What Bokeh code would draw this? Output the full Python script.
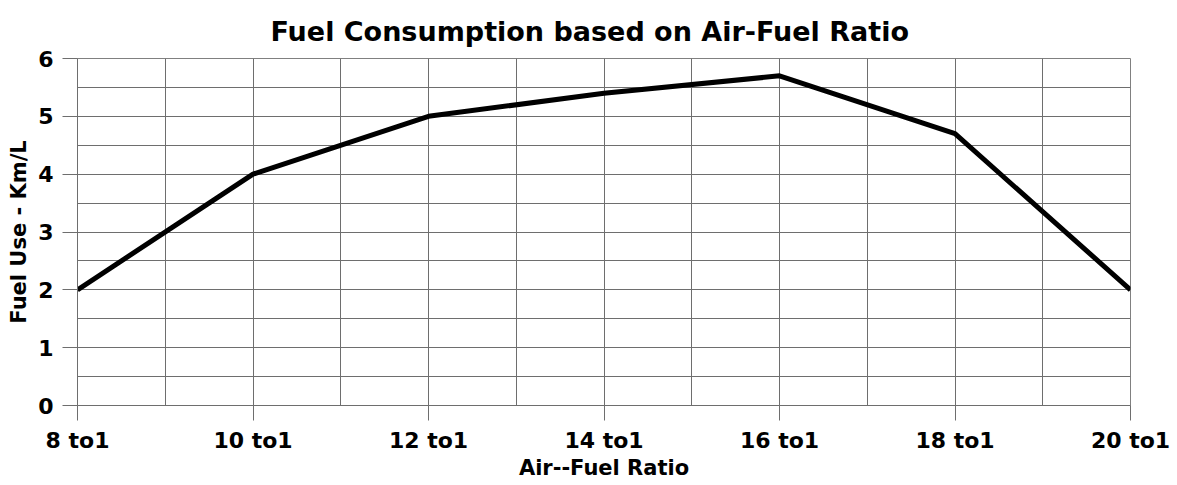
from bokeh.plotting import figure
from bokeh.models import FixedTicker, Range1d
from bokeh.embed import file_html
from bokeh.resources import INLINE

ratios = [8, 10, 12, 14, 16, 18, 20]
fuel_use = [2.0, 4.0, 5.0, 5.4, 5.7, 4.7, 2.0]
x_labels = {8: "8 to1", 10: "10 to1", 12: "12 to1", 14: "14 to1",
            16: "16 to1", 18: "18 to1", 20: "20 to1"}
y_ticks = [0, 1, 2, 3, 4, 5, 6]

FONT = "DejaVu Sans"

p = figure(width=1177, height=485, output_backend="svg", toolbar_location=None,
           x_range=Range1d(8, 20), y_range=Range1d(0, 6),
           min_border_left=77, min_border_right=47, min_border_top=58,
           min_border_bottom=80)
p.title.text = "Fuel Consumption based on Air-Fuel Ratio"
p.title.align = "left"
p.title.offset = 193
p.title.standoff = 24
p.title.text_font = FONT
p.title.text_font_size = "27px"
p.title.text_font_style = "bold"
p.title.text_color = "black"
p.outline_line_color = "#808080"
p.outline_line_width = 1

p.line(ratios, fuel_use, line_color="black", line_width=5)

# grids
p.xgrid.ticker = FixedTicker(ticks=list(range(8, 21)))
p.ygrid.ticker = FixedTicker(ticks=[i * 0.5 for i in range(13)])
for g in (p.xgrid, p.ygrid):
    g.grid_line_color = "#6e6e6e"
    g.grid_line_width = 1
    g.grid_line_alpha = 1

# x axis
p.xaxis.ticker = FixedTicker(ticks=ratios)
p.xaxis.major_label_overrides = x_labels
p.xaxis.axis_label = "Air--Fuel Ratio"
p.xaxis.major_tick_out = 15
p.xaxis.major_tick_in = 0
p.xaxis.minor_tick_line_color = None
p.xaxis.major_label_standoff = 7
p.xaxis.axis_label_standoff = 0

# y axis
p.yaxis.ticker = FixedTicker(ticks=y_ticks)
p.yaxis.axis_label = "Fuel Use - Km/L"
p.yaxis.major_tick_out = 15
p.yaxis.major_tick_in = 0
p.yaxis.minor_tick_line_color = None
p.yaxis.major_label_standoff = 9
p.yaxis.major_label_orientation = "horizontal"
p.yaxis.axis_label_standoff = 4

for ax in (p.xaxis, p.yaxis):
    ax.axis_line_color = "#6e6e6e"
    ax.major_tick_line_color = "#6e6e6e"
    ax.major_label_text_font = FONT
    ax.major_label_text_font_style = "bold"
    ax.major_label_text_font_size = "22px"
    ax.major_label_text_color = "black"
    ax.axis_label_text_font = FONT
    ax.axis_label_text_font_style = "bold"
    ax.axis_label_text_font_size = "21px"
    ax.axis_label_text_color = "black"

open("out.html", "w").write(file_html(p, INLINE))
